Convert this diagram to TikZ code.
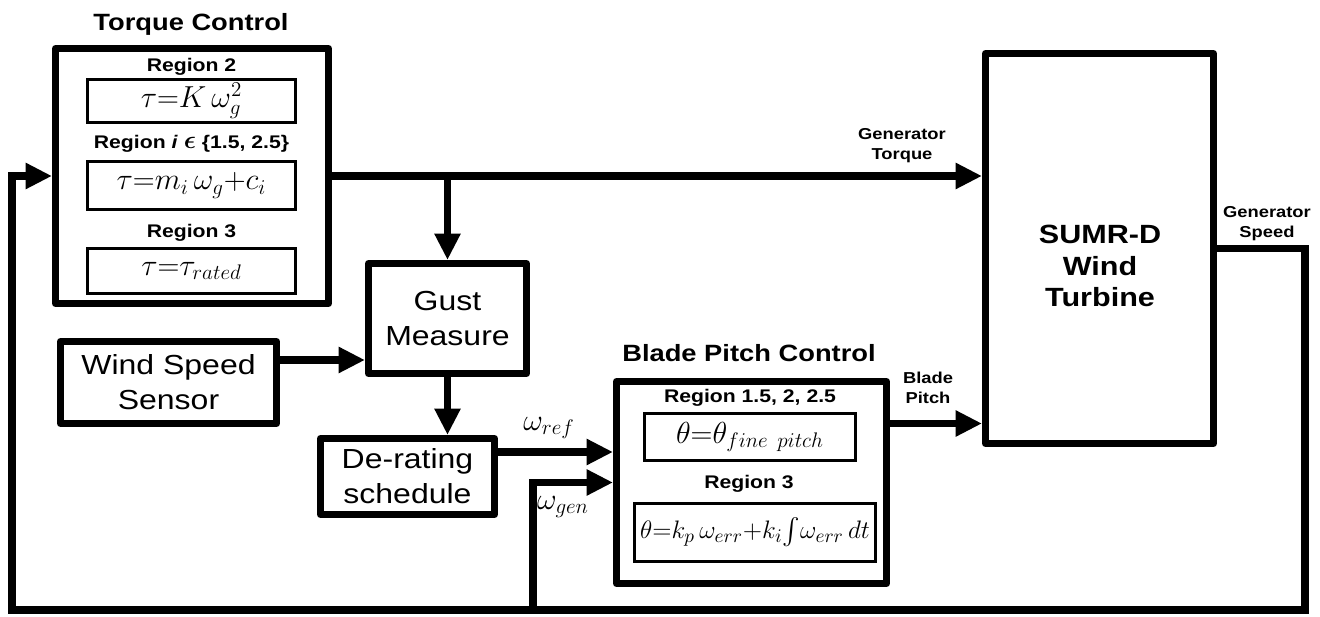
\documentclass[tikz,border=0pt]{standalone}
\usepackage{amsmath,amssymb}
\usepackage{fontspec}
\setmainfont{Liberation Sans}[FakeStretch=1.16]
\usepackage{tikz}
\usetikzlibrary{arrows.meta,positioning,calc}

\begin{document}
\begin{tikzpicture}[
      x=0.02cm, y=-0.02cm,
      outer/.style={draw, line width=4pt, line join=round, inner sep=0pt},
      inner/.style={draw, line width=2pt, inner sep=0pt},
      ttl/.style={font=\bfseries\fontsize{13.4}{16}\selectfont},
      reg/.style={font=\bfseries\fontsize{10.4}{12}\selectfont, anchor=base},
      txt/.style={align=center, font=\fontsize{15.7}{20}\selectfont},
      big/.style={align=center, font=\bfseries\fontsize{15}{18}\selectfont},
      sml/.style={align=center, font=\bfseries\fontsize{9}{11.3}\selectfont},
      eq/.style={font=\fontsize{17}{20}\selectfont},
      line/.style={line width=4pt},
      arr/.style={-{Triangle[length=15pt,width=14pt]}, line width=4pt}
    ]
      \useasboundingbox (0,0) rectangle (1320,617);
      % torque control
      \node[outer, minimum width=5.46cm, minimum height=5.10cm] (tc) at (192,176) {};
      \node[ttl] (tct) at (191,24) {Torque Control};
      \node[reg] (r2l) at (191.5,72) {Region 2};
      \node[inner, minimum width=4.16cm, minimum height=0.86cm, eq] (r2) at (191.5,101) {$\tau{=}K\,\omega_g^2$};
      \node[reg] (ril) at (191.5,149) {Region \textit{i} {\fontsize{14}{14}\selectfont$\boldsymbol{\epsilon}$} \{1.5, 2.5\}};
      \node[inner, minimum width=4.16cm, minimum height=0.96cm, eq] (ri) at (191.5,185.5) {$\tau{=}m_i\,\omega_g{+}c_i$};
      \node[reg] (r3l) at (191.5,238) {Region 3};
      \node[inner, minimum width=4.16cm, minimum height=0.90cm, eq] (r3) at (191.5,271) {$\tau{=}\tau_{rated}$};
      % middle blocks
      \node[outer, minimum width=3.16cm, minimum height=2.2cm, txt] (gust) at (447.5,318.5) {Gust\\Measure};
      \node[outer, minimum width=4.32cm, minimum height=1.64cm, txt] (wss) at (168.5,382.5) {Wind Speed\\Sensor};
      \node[outer, minimum width=3.48cm, minimum height=1.52cm, txt] (der) at (407.5,476.5) {De-rating\\schedule};
      % blade pitch control
      \node[outer, minimum width=5.40cm, minimum height=4.04cm] (bpc) at (751.5,482.5) {};
      \node[ttl] (bpct) at (749,353) {Blade Pitch Control};
      \node[reg] (bl1) at (750,403) {Region 1.5, 2, 2.5};
      \node[inner, minimum width=4.22cm, minimum height=0.94cm, eq] (fp) at (750,437) {$\theta{=}\theta_{fine\ pitch}$};
      \node[reg] (bl3) at (749,489) {Region 3};
      \node[inner, minimum width=4.82cm, minimum height=1.16cm, font=\fontsize{15}{18}\selectfont] (pi) at (755,532.5) {$\theta{=}k_p\,\omega_{err}{+}k_i\!\int\!\omega_{err}\,dt$};
      % turbine
      \node[outer, minimum width=4.56cm, minimum height=7.80cm] (turb) at (1099.5,248.5) {};
      \node[big] (turbt) at (1100,266) {SUMR-D\\Wind\\Turbine};
      % signal labels
      \node[sml] (gtq) at (902,146) {Generator\\Torque};
      \node[sml] (bpt) at (928,388) {Blade\\Pitch};
      \node[sml] (gsp) at (1267,224) {Generator\\Speed};
      \node[eq] (wref) at (549,428) {$\omega_{ref}$};
      \node[eq] (wgen) at (563,507) {$\omega_{gen}$};
      \coordinate (fbR) at (1305,610);
      \coordinate (fbL) at (12,610);
      \coordinate (fbG) at (533,610);
      % connectors
      \draw[arr] (tc.east) -- (tc.east -| turb.west);
      \draw[arr] (gust.north |- tc.east) -- (gust.north);
      \draw[arr] ([yshift=0.45cm]wss.east) coordinate (w1) -- (w1 -| gust.west);
      \draw[arr] (gust.south) -- (gust.south |- der.north);
      \draw[arr] ([yshift=0.49cm]der.east) coordinate (d1) -- (d1 -| bpc.west);
      \draw[arr] ([yshift=1.18cm]bpc.east) coordinate (b1) -- (b1 -| turb.west);
      \draw[arr] (turb.east) -| (fbR) -- (fbL) |- (tc.west);
      \draw[arr] (fbG) |- (bpc.west);
    \end{tikzpicture}
\end{document}
